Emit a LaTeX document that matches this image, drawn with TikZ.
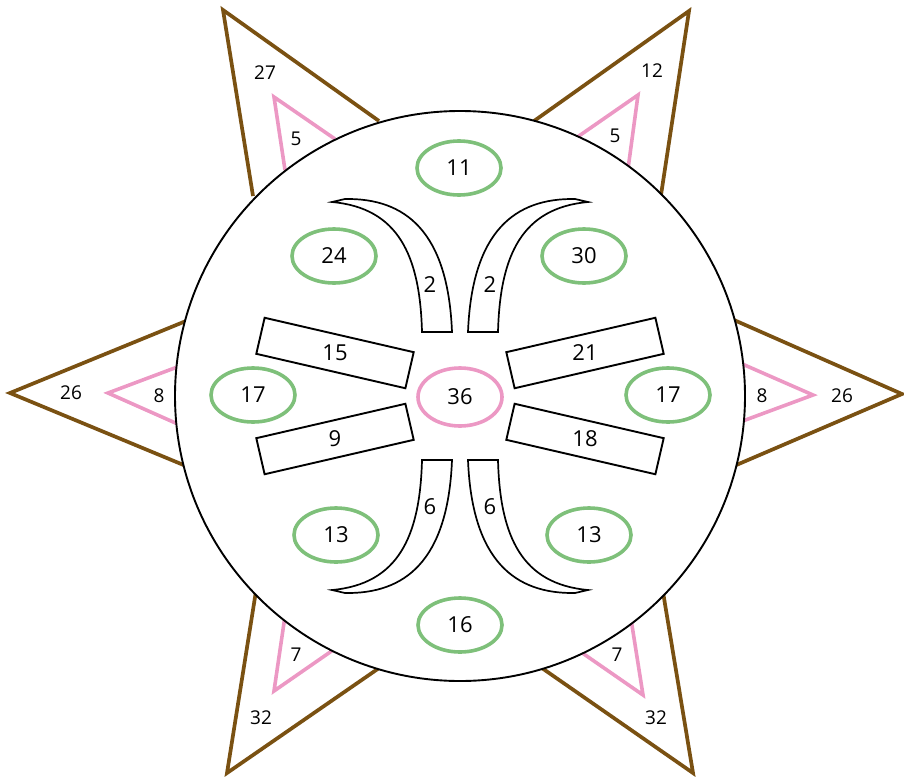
\documentclass[tikz,border=0pt]{standalone}
\usepackage{fontspec}
\setmainfont{Open Sans}
\usetikzlibrary{shapes.geometric}
\definecolor{starbrown}{RGB}{122,81,18}
\definecolor{tripink}{RGB}{236,152,196}
\definecolor{ellgreen}{RGB}{126,192,122}
\tikzset{
  brownline/.style={draw=starbrown,line width=3.7pt,line join=miter},
  pinkline/.style={draw=tripink,line width=3.6pt,line join=miter},
  gell/.style={ellipse,draw=ellgreen,line width=3.6pt,minimum width=84pt,minimum height=54pt,inner sep=0pt,font=\fontsize{22}{22}\selectfont},
  pell/.style={ellipse,draw=tripink,line width=3.6pt,minimum width=84pt,minimum height=58pt,inner sep=0pt,font=\fontsize{22}{22}\selectfont},
  rectbox/.style={rectangle,draw=black,line width=1.9pt,minimum width=153pt,minimum height=37pt,inner sep=0pt},
  numtxt/.style={inner sep=0pt,font=\fontsize{22}{22}\selectfont},
  smalltxt/.style={inner sep=0pt,font=\fontsize{19}{19}\selectfont},
  crescent/.style={draw=black,line width=1.7pt,fill=white,line join=miter}
}
\begin{document}
\begin{tikzpicture}[x=1pt,y=-1pt]
\useasboundingbox (0,0) rectangle (904,776);
% star points
\draw[brownline] (253,196) -- (223,10) -- (379,121);
\draw[brownline] (534,121) -- (689,11) -- (661,195);
\draw[brownline] (186,321) -- (10,393) -- (186,466);
\draw[brownline] (734,320) -- (902,394) -- (734,466);
\draw[brownline] (256,591) -- (227,773) -- (382,666);
\draw[brownline] (663,592) -- (693,773) -- (539,666);
% pink triangles
\draw[pinkline] (285,170) -- (274,97) -- (335,139);
\draw[pinkline] (576,138) -- (638,95) -- (628,169);
\draw[pinkline] (180,366) -- (108,393) -- (180,425);
\draw[pinkline] (740,363) -- (813,395) -- (740,422);
\draw[pinkline] (285,616) -- (274,691) -- (336,648);
\draw[pinkline] (631,619) -- (643,695) -- (578,650);
% main circle
\node[circle,draw=black,fill=white,line width=1.9pt,minimum size=570pt,inner sep=0pt] (disc) at (460,396) {};
% outer labels
\node[smalltxt] (l27) at (265,73) {27};
\node[smalltxt] (l5a) at (296,139) {5};
\node[smalltxt] (l12) at (652,71) {12};
\node[smalltxt] (l5b) at (615,136) {5};
\node[smalltxt] (l26a) at (71,393) {26};
\node[smalltxt] (l8a) at (159,396) {8};
\node[smalltxt] (l8b) at (762,396) {8};
\node[smalltxt] (l26b) at (842,396) {26};
\node[smalltxt] (l7a) at (296,655) {7};
\node[smalltxt] (l32a) at (261,718) {32};
\node[smalltxt] (l7b) at (617,655) {7};
\node[smalltxt] (l32b) at (656,718) {32};
% crescents
\begin{scope}[shift={(460,396)}]
  \foreach \sx/\sy in {1/1,-1/1,1/-1,-1/-1}{
    \begin{scope}[xscale=\sx,yscale=\sy]
      \draw[crescent] (-38,-64) -- (-8,-64) .. controls (-12,-165) and (-55,-198) .. (-115,-197)
        -- (-128,-194) .. controls (-62,-188) and (-40,-141) .. cycle;
    \end{scope}
  }
\end{scope}
\node[numtxt] (c2a) at (430,285) {2};
\node[numtxt] (c2b) at (490,285) {2};
\node[numtxt] (c6a) at (430,507) {6};
\node[numtxt] (c6b) at (490,507) {6};
% rectangles
\node[rectbox,rotate=-13] (r15) at (335,353) {};
\node[rectbox,rotate=13] (r9) at (335,439) {};
\node[rectbox,rotate=13] (r21) at (585,353) {};
\node[rectbox,rotate=-13] (r18) at (585,439) {};
\node[numtxt] (t15) at (r15.center) {15};
\node[numtxt] (t9) at (r9.center) {9};
\node[numtxt] (t21) at (r21.center) {21};
\node[numtxt] (t18) at (r18.center) {18};
% ellipses
\node[pell] (e36) at (460,397) {36};
\node[gell] (e11) at (459,168) {11};
\node[gell] (e24) at (334,256) {24};
\node[gell] (e30) at (584,256) {30};
\node[gell] (e17a) at (253,395) {17};
\node[gell] (e17b) at (668,395) {17};
\node[gell] (e13a) at (336,535) {13};
\node[gell] (e13b) at (589,535) {13};
\node[gell] (e16) at (460,625) {16};
\end{tikzpicture}
\end{document}
